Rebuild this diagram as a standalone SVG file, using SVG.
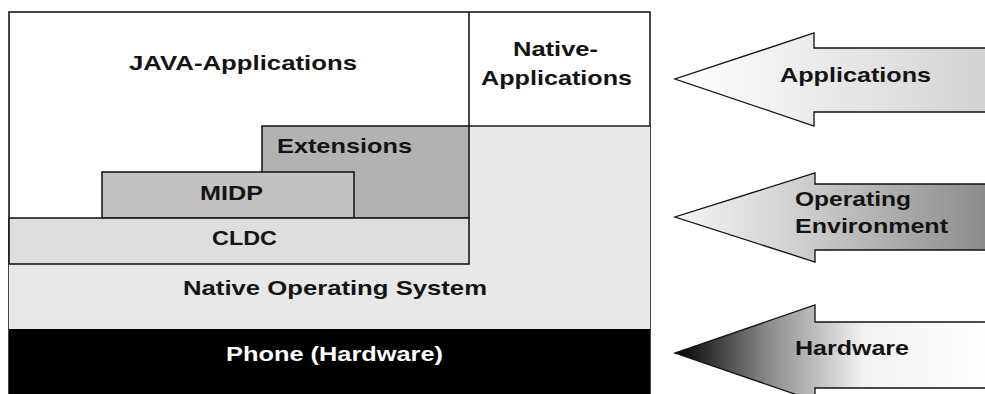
<svg xmlns="http://www.w3.org/2000/svg" width="985" height="394" viewBox="0 0 985 394">
  <defs>
    <style>
      .lbl { font-family: "Liberation Sans", Arial, sans-serif; font-weight: bold; font-size: 21px; fill: #141414; }
      .wht { fill: #ffffff; }
      .box { stroke: #1a1a1a; stroke-width: 1.6; }
      .arr { stroke: #111; stroke-width: 1.3; stroke-linejoin: miter; }
    </style>
    <linearGradient id="gApp" x1="0" y1="0" x2="1" y2="0">
      <stop offset="0" stop-color="#ffffff"/>
      <stop offset="1" stop-color="#d2d2d2"/>
    </linearGradient>
    <linearGradient id="gEnv" x1="0" y1="0" x2="1" y2="0">
      <stop offset="0" stop-color="#f4f4f4"/>
      <stop offset="0.35" stop-color="#d4d4d4"/>
      <stop offset="1" stop-color="#8a8a8a"/>
    </linearGradient>
    <linearGradient id="gHw" x1="0" y1="0" x2="1" y2="0">
      <stop offset="0" stop-color="#000000"/>
      <stop offset="0.3" stop-color="#8c8c8c"/>
      <stop offset="0.6" stop-color="#f2f2f2"/>
      <stop offset="1" stop-color="#ffffff"/>
    </linearGradient>
  </defs>

  <rect width="985" height="394" fill="#ffffff"/>

  <g id="frame">
    <rect x="9" y="12" width="641" height="400" fill="#ffffff" class="box"/>
  </g>

  <g id="native-os">
    <polygon points="9,264 469,264 469,126 650,126 650,329 9,329" fill="#e8e8e8"/>
    <text class="lbl" x="183" y="295" textLength="304" lengthAdjust="spacingAndGlyphs">Native Operating System</text>
  </g>

  <g id="java-applications">
    <text class="lbl" x="129" y="70" textLength="228" lengthAdjust="spacingAndGlyphs">JAVA-Applications</text>
  </g>

  <g id="native-applications">
    <line x1="469" y1="12" x2="469" y2="126" class="box"/>
    <line x1="469" y1="126" x2="650" y2="126" class="box"/>
    <text class="lbl" x="513" y="56" textLength="85" lengthAdjust="spacingAndGlyphs">Native-</text>
    <text class="lbl" x="481" y="85" textLength="151" lengthAdjust="spacingAndGlyphs">Applications</text>
  </g>

  <g id="extensions">
    <rect x="262" y="126" width="207" height="92" fill="#b2b2b2" class="box"/>
    <text class="lbl" x="277" y="153" textLength="135" lengthAdjust="spacingAndGlyphs">Extensions</text>
  </g>

  <g id="midp">
    <rect x="102" y="172" width="252" height="46" fill="#c2c2c2" class="box"/>
    <text class="lbl" x="200" y="200" textLength="63" lengthAdjust="spacingAndGlyphs">MIDP</text>
  </g>

  <g id="cldc">
    <rect x="9" y="218" width="460" height="46" fill="#dedede" class="box"/>
    <text class="lbl" x="212" y="245" textLength="65" lengthAdjust="spacingAndGlyphs">CLDC</text>
  </g>

  <g id="phone-hardware">
    <rect x="9" y="329" width="641" height="70" fill="#000000"/>
    <text class="lbl wht" x="226" y="361" textLength="217" lengthAdjust="spacingAndGlyphs">Phone (Hardware)</text>
  </g>

  <g id="connectors">
    <g id="arrow-applications">
      <polygon class="arr" fill="url(#gApp)" points="990,48 814,48 814,33 675,79 814,126 814,112 990,112"/>
      <text class="lbl" x="780" y="82" textLength="151" lengthAdjust="spacingAndGlyphs">Applications</text>
    </g>
    <g id="arrow-environment">
      <polygon class="arr" fill="url(#gEnv)" points="990,184 815,184 815,173 675,217 815,262 815,250 990,250"/>
      <text class="lbl" x="795" y="206" textLength="116" lengthAdjust="spacingAndGlyphs">Operating</text>
      <text class="lbl" x="795" y="233" textLength="153" lengthAdjust="spacingAndGlyphs">Environment</text>
    </g>
    <g id="arrow-hardware">
      <polygon class="arr" fill="url(#gHw)" points="990,322 815,322 815,305 675,353 815,401 815,388 990,388"/>
      <text class="lbl" x="795" y="355" textLength="114" lengthAdjust="spacingAndGlyphs">Hardware</text>
    </g>
  </g>
</svg>
